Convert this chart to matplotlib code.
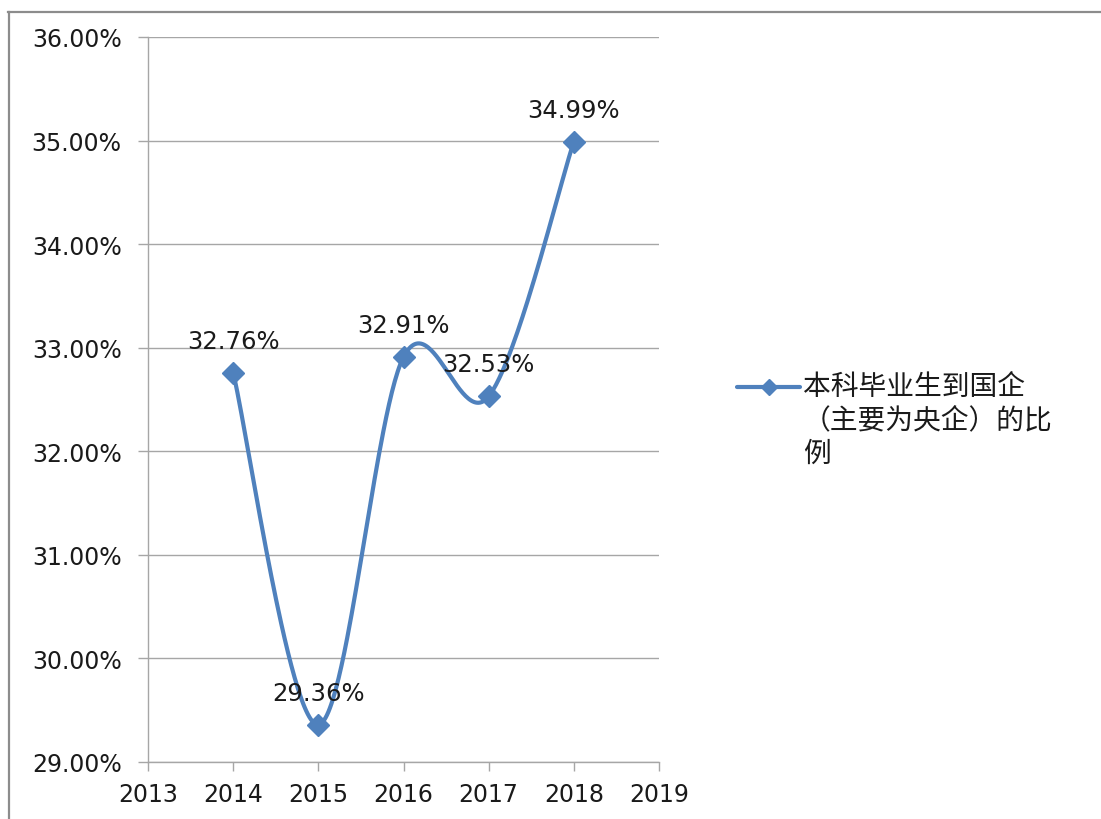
import numpy as np
import matplotlib
matplotlib.use("Agg")
import matplotlib.pyplot as plt
from matplotlib.lines import Line2D
from matplotlib.ticker import FuncFormatter, MultipleLocator

plt.rcParams['font.family'] = ['DejaVu Sans', 'Noto Sans CJK SC']

years = [2014, 2015, 2016, 2017, 2018]
values = [32.76, 29.36, 32.91, 32.53, 34.99]
labels = ["32.76%", "29.36%", "32.91%", "32.53%", "34.99%"]
series_name = "本科毕业生到国企\n（主要为央企）的比\n例"
x_ticks = [2013, 2014, 2015, 2016, 2017, 2018, 2019]
y_min, y_max = 29.0, 36.0

color = "#4F81BD"

def catmull_rom(xs, ys, n=60):
    P = np.column_stack([xs, ys]).astype(float)
    out = []
    for i in range(len(P) - 1):
        p0 = P[i - 1] if i > 0 else P[i]
        p1 = P[i]
        p2 = P[i + 1]
        p3 = P[i + 2] if i + 2 < len(P) else P[i + 1]
        c1 = p1 + (p2 - p0) / 6.0
        c2 = p2 - (p3 - p1) / 6.0
        t = np.linspace(0, 1, n)[:, None]
        seg = ((1 - t) ** 3) * p1 + 3 * ((1 - t) ** 2) * t * c1 + 3 * (1 - t) * t ** 2 * c2 + t ** 3 * p2
        out.append(seg if i == 0 else seg[1:])
    S = np.vstack(out)
    return S[:, 0], S[:, 1]

fig = plt.figure(figsize=(11.01, 8.2), dpi=100)
ax = fig.add_axes([148 / 1101, 1 - 763 / 820, (659 - 148) / 1101, (763 - 38) / 820])

sx, sy = catmull_rom(years, values)
ax.plot(sx, sy, color=color, lw=3.0, solid_capstyle='round', zorder=3)
ax.plot(years, values, linestyle='none', marker='D', markersize=11,
        color=color, zorder=4)

for x, y, lab in zip(years, values, labels):
    ax.annotate(lab, (x, y), xytext=(0, 23), textcoords='offset points',
                ha='center', va='center', fontsize=17.5, color='#1a1a1a', zorder=5)

ax.set_xlim(x_ticks[0], x_ticks[-1])
ax.set_ylim(y_min, y_max)
ax.set_xticks(x_ticks)
ax.set_xticklabels([str(t) for t in x_ticks])
ax.yaxis.set_major_locator(MultipleLocator(1.0))
ax.yaxis.set_major_formatter(FuncFormatter(lambda v, p: f"{v:.2f}%"))

ax.grid(axis='y', color='#a6a6a6', lw=1.0)
ax.set_axisbelow(True)
for s in ['top', 'right']:
    ax.spines[s].set_visible(False)
for s in ['left', 'bottom']:
    ax.spines[s].set_color('#a6a6a6')
    ax.spines[s].set_linewidth(1.0)
ax.tick_params(axis='y', direction='out', length=7, width=1, color='#a6a6a6',
               pad=12, labelsize=17, labelcolor='#1a1a1a')
ax.tick_params(axis='x', direction='out', length=6.5, width=1, color='#a6a6a6',
               pad=8, labelsize=17, labelcolor='#1a1a1a')

# legend: handle aligned with the first line of the wrapped series name
ly = 1 - 388 / 820
fig.add_artist(Line2D([737 / 1101, 800 / 1101], [ly, ly], color=color, lw=3.0,
                      solid_capstyle='round', transform=fig.transFigure))
fig.add_artist(Line2D([768.5 / 1101], [ly], color=color, marker='D', markersize=8,
                      linestyle='none', transform=fig.transFigure))
fig.text(803 / 1101, 1 - 372 / 820, series_name, ha='left', va='top',
         fontsize=20, family=['Noto Sans CJK SC'], color='#1a1a1a', linespacing=1.15)

# outer chart border (top and left)
fig.add_artist(Line2D([8 / 1101, 1], [1 - 12.5 / 820, 1 - 12.5 / 820],
                      color='#8c8c8c', lw=1.6, transform=fig.transFigure))
fig.add_artist(Line2D([8.5 / 1101, 8.5 / 1101], [0, 1 - 12.5 / 820],
                      color='#8c8c8c', lw=1.6, transform=fig.transFigure))

fig.savefig("out.png", dpi=100, facecolor='white')
